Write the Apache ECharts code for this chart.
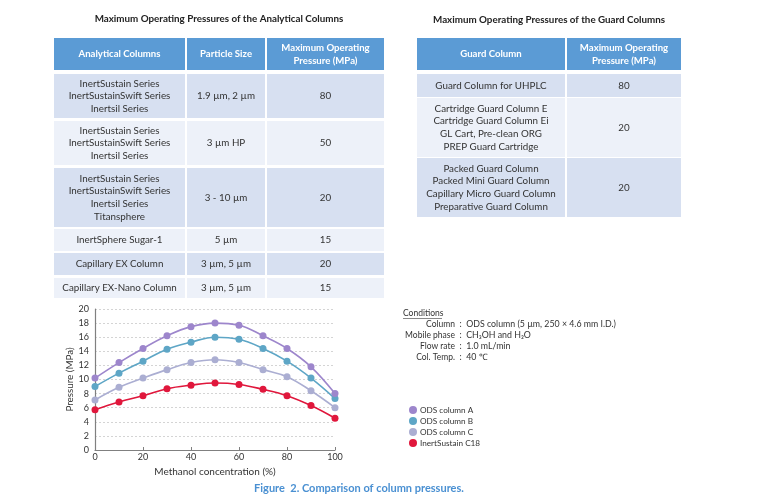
<!DOCTYPE html>
<html>
<head>
<meta charset="utf-8">
<script src="https://cdn.jsdelivr.net/npm/echarts@6/dist/echarts.min.js"></script>
<style>
html,body{margin:0;padding:0;background:#fff;}
#main{width:758px;height:501px;}
</style>
</head>
<body>
<div id="main"></div>
<script>
// ---------- data ----------
var methanol = [0, 10, 20, 30, 40, 50, 60, 70, 80, 90, 100];
var odsA = [10.2, 12.4, 14.4, 16.2, 17.5, 18.0, 17.7, 16.2, 14.4, 11.8, 8.0];
var odsB = [9.0, 10.9, 12.6, 14.3, 15.3, 16.0, 15.7, 14.4, 12.6, 10.2, 7.3];
var odsC = [7.1, 8.9, 10.2, 11.4, 12.4, 12.8, 12.4, 11.4, 10.4, 8.4, 6.0];
var inertC18 = [5.7, 6.8, 7.7, 8.7, 9.2, 9.5, 9.3, 8.6, 7.7, 6.3, 4.5];
var seriesNames = ['ODS column A', 'ODS column B', 'ODS column C', 'InertSustain C18'];

var analyticalHeader = ['Analytical Columns', 'Particle Size', 'Maximum Operating\nPressure (MPa)'];
var analyticalColumns = [
  'InertSustain Series\nInertSustainSwift Series\nInertsil Series',
  'InertSustain Series\nInertSustainSwift Series\nInertsil Series',
  'InertSustain Series\nInertSustainSwift Series\nInertsil Series\nTitansphere',
  'InertSphere Sugar-1',
  'Capillary EX Column',
  'Capillary EX-Nano Column'
];
var particleSizes = ['1.9 µm, 2 µm', '3 µm HP', '3 - 10 µm', '5 µm', '3 µm, 5 µm', '3 µm, 5 µm'];
var analyticalPressures = ['80', '50', '20', '15', '20', '15'];

var guardHeader = ['Guard Column', 'Maximum Operating\nPressure (MPa)'];
var guardColumns = [
  'Guard Column for UHPLC',
  'Cartridge Guard Column E\nCartridge Guard Column Ei\nGL Cart, Pre-clean ORG\nPREP Guard Cartridge',
  'Packed Guard Column\nPacked Mini Guard Column\nCapillary Micro Guard Column\nPreparative Guard Column'
];
var guardPressures = ['80', '20', '20'];

var conditionLabels = ['Column', 'Mobile phase', 'Flow rate', 'Col. Temp.'];
var conditionValues = ['ODS column (5 µm, 250 × 4.6 mm I.D.)', 'CH₃OH and H₂O', '1.0 mL/min', '40 ℃'];

// ---------- layout ----------
var FONT = 'Lato, "Open Sans", sans-serif';
var HEADER_COLOR = '#5b9bd5';
var ROW_DARK = '#d7e0f1';
var ROW_LIGHT = '#edf1f9';

var leftColX = [53, 186, 266, 385];
var leftRowY = [[38, 70], [74, 118], [121, 165], [168, 227], [229, 251], [253, 275], [278, 298]];
var rightColX = [416, 566, 682];
var rightRowY = [[38, 70], [74, 97], [98, 157], [158, 217]];

var graphics = [];
function cell(x0, x1, y0, y1, fill, txt, header) {
  graphics.push({
    type: 'rect',
    shape: {x: x0 + 1, y: y0, width: x1 - x0 - 2, height: y1 - y0},
    style: {fill: fill},
    silent: true
  });
  graphics.push({
    type: 'text',
    x: (x0 + x1) / 2,
    y: (y0 + y1) / 2,
    style: {
      text: txt,
      fill: header ? '#ffffff' : '#333333',
      font: (header ? 'bold 9.6px ' : '9.8px ') + FONT,
      align: 'center',
      verticalAlign: 'middle',
      lineHeight: header ? 13 : 12.6
    },
    silent: true
  });
}
function table(colX, rowY, header, cols) {
  for (var c = 0; c < header.length; c++) {
    cell(colX[c], colX[c + 1], rowY[0][0], rowY[0][1], HEADER_COLOR, header[c], true);
  }
  for (var r = 0; r < cols[0].length; r++) {
    var fill = (r % 2 === 0) ? ROW_DARK : ROW_LIGHT;
    for (var c2 = 0; c2 < cols.length; c2++) {
      cell(colX[c2], colX[c2 + 1], rowY[r + 1][0], rowY[r + 1][1], fill, cols[c2][r], false);
    }
  }
}
table(leftColX, leftRowY, analyticalHeader, [analyticalColumns, particleSizes, analyticalPressures]);
table(rightColX, rightRowY, guardHeader, [guardColumns, guardPressures]);

graphics.push({
  type: 'text', x: 219, y: 19,
  style: {text: 'Maximum Operating Pressures of the Analytical Columns', font: 'bold 9.8px ' + FONT,
    fill: '#222', align: 'center', verticalAlign: 'middle'}
});
graphics.push({
  type: 'text', x: 549, y: 20,
  style: {text: 'Maximum Operating Pressures of the Guard Columns', font: 'bold 9.8px ' + FONT,
    fill: '#222', align: 'center', verticalAlign: 'middle'}
});

// conditions
graphics.push({
  type: 'text', x: 403, y: 313,
  style: {text: 'Conditions', font: '8.5px ' + FONT, fill: '#333', align: 'left', verticalAlign: 'middle'}
});
graphics.push({
  type: 'line', shape: {x1: 403, y1: 318.5, x2: 442, y2: 318.5}, style: {stroke: '#555', lineWidth: 0.7}
});
for (var i = 0; i < conditionLabels.length; i++) {
  var yy = 324 + i * 11;
  graphics.push({
    type: 'text', x: 455, y: yy,
    style: {text: conditionLabels[i], font: '8.5px ' + FONT, fill: '#333', align: 'right', verticalAlign: 'middle'}
  });
  graphics.push({
    type: 'text', x: 459.5, y: yy,
    style: {text: ':  ' + conditionValues[i], font: '8.8px ' + FONT, fill: '#333', align: 'left', verticalAlign: 'middle'}
  });
}

// caption
graphics.push({
  type: 'text', x: 359, y: 488,
  style: {text: 'Figure  2. Comparison of column pressures.', font: 'bold 11px ' + FONT,
    fill: '#4a90d2', align: 'center', verticalAlign: 'middle'}
});

var colors = ['#9d86cc', '#5ea6c6', '#abaed2', '#e0173c'];
var seriesData = [odsA, odsB, odsC, inertC18];

function pairs(arr) {
  return methanol.map(function (x, k) { return [x, arr[k]]; });
}

var option = {
  animation: false,
  backgroundColor: '#ffffff',
  color: colors,
  textStyle: {fontFamily: FONT},
  grid: {left: 95, right: 423, top: 309, bottom: 51, containLabel: false},
  legend: {
    orient: 'vertical',
    left: 404, top: 401,
    icon: 'circle',
    itemWidth: 8, itemHeight: 8, itemGap: 3,
    textStyle: {fontSize: 8.2, color: '#333', fontFamily: FONT, padding: [0, 0, 0, -2]},
    data: seriesNames
  },
  xAxis: {
    type: 'value', min: 0, max: 100, interval: 20,
    name: 'Methanol concentration (%)', nameLocation: 'middle', nameGap: 17,
    nameTextStyle: {fontSize: 10, color: '#333'},
    axisLine: {lineStyle: {color: '#808080', width: 1.2}},
    axisTick: {show: true, inside: true, length: 3, lineStyle: {color: '#808080'}},
    axisLabel: {fontSize: 9, color: '#333', margin: 3},
    splitLine: {show: false}
  },
  yAxis: {
    type: 'value', min: 0, max: 20, interval: 2,
    name: 'Pressure (MPa)', nameLocation: 'middle', nameGap: 19,
    nameTextStyle: {fontSize: 9.8, color: '#333'},
    axisLine: {show: true, lineStyle: {color: '#808080', width: 1.2}},
    axisTick: {show: false},
    axisLabel: {fontSize: 9, color: '#333', margin: 6},
    splitLine: {show: true, lineStyle: {color: '#d4d4d4', type: [2, 2], width: 1}}
  },
  series: seriesData.map(function (d, k) {
    return {
      name: seriesNames[k], type: 'line', smooth: 0.4,
      data: pairs(d),
      symbol: 'circle', symbolSize: 7,
      lineStyle: {width: 1.6, color: colors[k]},
      itemStyle: {color: colors[k]},
      z: 10 - k
    };
  }),
  graphic: graphics
};

var chart = echarts.init(document.getElementById('main'));
chart.setOption(option);
</script>
</body>
</html>
